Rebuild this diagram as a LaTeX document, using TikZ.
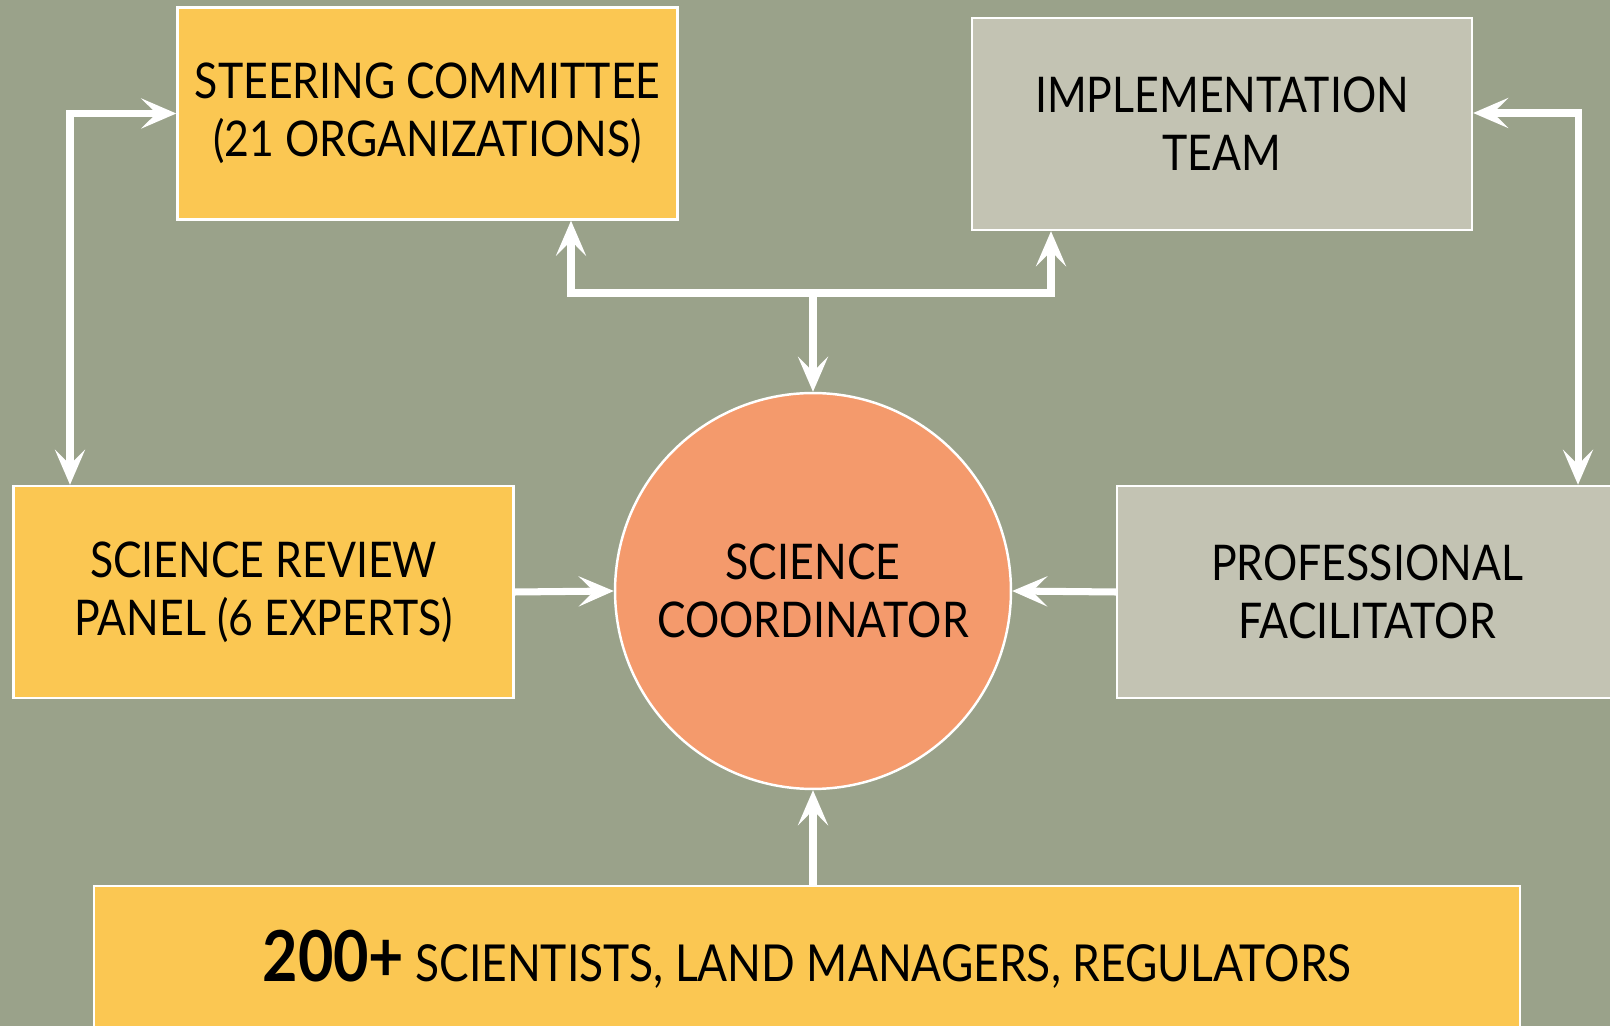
\documentclass[tikz,border=0pt]{standalone}
\usepackage{fontspec}
\setmainfont[FakeStretch=0.87]{Lato}
\usetikzlibrary{arrows.meta,positioning,calc}
\definecolor{bgolive}{HTML}{9AA28A}
\definecolor{boxyellow}{HTML}{FBC752}
\definecolor{boxgray}{HTML}{C3C3B3}
\definecolor{circsalmon}{HTML}{F49A6C}

\begin{document}
\begin{tikzpicture}[
  x=0.02cm, y=-0.02cm,
  font=\fontsize{28}{33}\selectfont,
  box/.style={draw=white, line width=1.4pt, align=center, minimum width=10cm, minimum height=4.24cm, inner sep=0pt},
  ybox/.style={box, fill=boxyellow},
  gbox/.style={box, fill=boxgray},
  arrow/.style={-{Stealth[length=7mm, width=6mm, inset=3mm]}, draw=white, line width=4pt},
  biarrow/.style={{Stealth[length=7mm, width=6mm, inset=3mm]}-{Stealth[length=7mm, width=6mm, inset=3mm]}, draw=white, line width=4pt}
]
\useasboundingbox (0,0) rectangle (1610,1026);
\clip (0,0) rectangle (1610,1026);
\fill[bgolive] (0,0) rectangle (1610,1026);

% boxes
\node[ybox] (steer) at (427.5,113.5) {STEERING COMMITTEE\\(21 ORGANIZATIONS)};
\node[gbox] (impl) at (1222,124) {IMPLEMENTATION\\TEAM};
\node[ybox] (review) at (263.5,592) {SCIENCE REVIEW\\PANEL (6 EXPERTS)};
\node[gbox] (facil) at (1367,592) {PROFESSIONAL\\FACILITATOR};
\node[circle, draw=white, line width=1.4pt, fill=circsalmon, minimum size=7.92cm, align=center] (coord) at (813,591) {SCIENCE\\COORDINATOR};
\node[ybox, anchor=north, minimum width=28.52cm, minimum height=2.92cm] (crowd) at (807,885)
  {{\fontsize{40}{40}\selectfont\bfseries 200+} {\fontsize{29}{30}\selectfont SCIENTISTS, LAND MANAGERS, REGULATORS}};

% bends
\coordinate (lbend) at (70,113);
\coordinate (rbend) at (1578,113);
\coordinate (hub) at (813,293);
\coordinate (lbranch) at (571,293);
\coordinate (rbranch) at (1051,293);

% connectors
\draw[biarrow] (steer.west) -| (lbend |- review.north);
\draw[biarrow] (impl.east |- rbend) -- (rbend) -- (rbend |- facil.north);
\draw[arrow] (hub) -- (coord.north);
\draw[arrow] (hub) -| (lbranch |- steer.south);
\draw[arrow] (hub) -| (rbranch |- impl.south);
\draw[arrow] (review.east) -- (coord.west);
\draw[arrow] (facil.west) -- (coord.east);
\draw[arrow] (crowd.north -| coord.south) -- (coord.south);

\end{tikzpicture}
\end{document}
